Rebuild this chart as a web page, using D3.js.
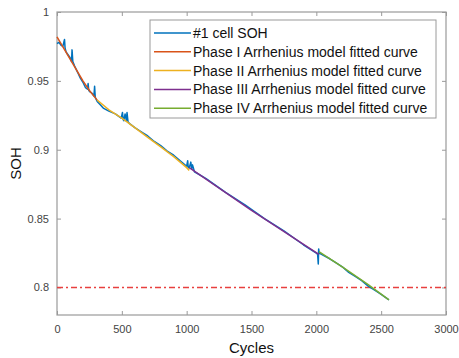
<!DOCTYPE html>
<html>
<head>
<meta charset="utf-8">
<script src="https://cdn.jsdelivr.net/npm/d3@7"></script>
<style>
  body { margin: 0; background: #fff; }
  text { font-family: 'Liberation Sans', Arial, sans-serif; }
</style>
</head>
<body>
<div id="chart"></div>
<script>
'use strict';

// measured SOH of cell #1 (cycle, soh)
var sohCycles = [0, 15, 30, 45, 58, 62, 70, 85, 100, 112, 116, 122, 135, 150, 165, 180, 200, 220, 235, 240, 245, 255, 270, 285, 290, 295, 310, 330, 360, 400, 450, 495, 505, 510, 515, 525, 535, 540, 548, 560, 600, 650, 700, 750, 800, 850, 900, 950, 1000, 1008, 1012, 1020, 1032, 1038, 1045, 1060, 1150, 1300, 1450, 1600, 1750, 1900, 2000, 2010, 2015, 2018, 2022, 2040, 2100, 2150, 2200, 2250, 2300, 2350, 2400, 2450, 2500, 2560];
var sohValues = [0.977, 0.978, 0.976, 0.975, 0.980, 0.974, 0.971, 0.969, 0.967, 0.964, 0.9725, 0.964, 0.961, 0.958, 0.955, 0.952, 0.949, 0.945, 0.944, 0.948, 0.943, 0.942, 0.941, 0.939, 0.946, 0.938, 0.935, 0.933, 0.930, 0.928, 0.926, 0.923, 0.927, 0.922, 0.921, 0.926, 0.921, 0.927, 0.920, 0.919, 0.916, 0.913, 0.910, 0.906, 0.903, 0.899, 0.896, 0.892, 0.888, 0.892, 0.887, 0.887, 0.891, 0.886, 0.889, 0.884, 0.879, 0.869, 0.860, 0.850, 0.841, 0.831, 0.825, 0.824, 0.817, 0.828, 0.825, 0.824, 0.821, 0.818, 0.815, 0.811, 0.808, 0.805, 0.801, 0.798, 0.795, 0.791];

// Arrhenius fitted curves, one per phase
var phase1 = [[0, 0.982], [50, 0.974], [100, 0.966], [150, 0.958], [200, 0.950], [250, 0.943], [310, 0.936]];
var phase2 = [[310, 0.936], [400, 0.929], [500, 0.923], [600, 0.916], [700, 0.909], [800, 0.902], [900, 0.895], [1000, 0.887], [1020, 0.885]];
var phase3 = [[1020, 0.887], [1500, 0.856], [2020, 0.824]];
var phase4 = [[2020, 0.826], [2200, 0.815], [2400, 0.802], [2560, 0.791]];

var seriesNames = ['#1 cell SOH', 'Phase I Arrhenius model fitted curve', 'Phase II Arrhenius model fitted curve',
  'Phase III Arrhenius model fitted curve', 'Phase IV Arrhenius model fitted curve'];
var seriesColors = ['#0072bd', '#d95319', '#edb120', '#7e2f8e', '#77ac30'];

var xTicks = [0, 500, 1000, 1500, 2000, 2500, 3000];
var yTicks = [0.8, 0.85, 0.9, 0.95, 1];
var eolThreshold = 0.8;

var W = 459, H = 358;
var margin = {top: 12, right: 13, bottom: 43, left: 57},
  width = W - margin.left - margin.right,
  height = H - margin.top - margin.bottom;

var svg = d3.select('#chart').append('svg')
  .attr('width', W)
  .attr('height', H)
  .append('g')
  .attr('transform', 'translate(' + margin.left + ',' + margin.top + ')');

var x = d3.scaleLinear().domain([0, 3000]).range([0, width]);
var y = d3.scaleLinear().domain([0.78, 1]).range([height, 0]);

var axisColor = '#9a9a9a';

// axes with inward ticks (box style)
function styleAxis(g) {
  g.select('.domain').remove();
  g.selectAll('.tick line').attr('stroke', axisColor);
  g.selectAll('.tick text').attr('fill', '#444').style('font-size', '11px');
}

svg.append('g')
  .attr('transform', 'translate(0,' + height + ')')
  .call(d3.axisBottom(x).tickValues(xTicks).tickSizeInner(-4).tickSizeOuter(0).tickPadding(10).tickFormat(d3.format('d')))
  .call(styleAxis);

svg.append('g')
  .call(d3.axisLeft(y).tickValues(yTicks).tickSizeInner(-4).tickSizeOuter(0).tickPadding(8).tickFormat(function(d) { return String(d); }))
  .call(styleAxis);

svg.append('g')
  .call(d3.axisTop(x).tickValues(xTicks).tickSizeInner(-4).tickSizeOuter(0).tickFormat(''))
  .call(styleAxis);

svg.append('g')
  .attr('transform', 'translate(' + width + ',0)')
  .call(d3.axisRight(y).tickValues(yTicks).tickSizeInner(-4).tickSizeOuter(0).tickFormat(''))
  .call(styleAxis);

svg.append('rect')
  .attr('width', width)
  .attr('height', height)
  .attr('fill', 'none')
  .attr('stroke', axisColor)
  .attr('stroke-width', 1.2);

// threshold line
svg.append('line')
  .attr('x1', 0)
  .attr('x2', width)
  .attr('y1', y(eolThreshold))
  .attr('y2', y(eolThreshold))
  .attr('stroke', '#e8403f')
  .attr('stroke-width', 1.4)
  .attr('stroke-dasharray', '6,3,2,3');

var line = d3.line()
  .x(function(d) { return x(d[0]); })
  .y(function(d) { return y(d[1]); });

var sohData = sohCycles.map(function(c, i) { return [c, sohValues[i]]; });
var allSeries = [sohData, phase1, phase2, phase3, phase4];

allSeries.forEach(function(s, i) {
  svg.append('path')
    .datum(s)
    .attr('fill', 'none')
    .attr('stroke', seriesColors[i])
    .attr('stroke-width', 1.5)
    .attr('stroke-linejoin', 'round')
    .attr('d', line);
});

// legend
var legend = svg.append('g')
  .attr('transform', 'translate(' + (150 - margin.left) + ',' + (20 - margin.top) + ')');

legend.append('rect')
  .attr('width', 286)
  .attr('height', 98)
  .attr('fill', '#fff')
  .attr('stroke', axisColor)
  .attr('stroke-width', 1);

seriesNames.forEach(function(name, i) {
  var ly = 13 + i * 18.8;
  legend.append('line')
    .attr('x1', 4)
    .attr('x2', 41)
    .attr('y1', ly)
    .attr('y2', ly)
    .attr('stroke', seriesColors[i])
    .attr('stroke-width', 1.5);
  legend.append('text')
    .attr('x', 43)
    .attr('y', ly)
    .attr('dy', '0.35em')
    .style('font-size', '14px')
    .attr('fill', '#111')
    .text(name);
});

// axis titles
svg.append('text')
  .attr('x', width / 2)
  .attr('y', height + 38)
  .attr('text-anchor', 'middle')
  .style('font-size', '15px')
  .attr('fill', '#111')
  .text('Cycles');

svg.append('text')
  .attr('transform', 'translate(' + (-36) + ',' + (height / 2) + ') rotate(-90)')
  .attr('text-anchor', 'middle')
  .style('font-size', '15px')
  .attr('fill', '#111')
  .text('SOH');
</script>
</body>
</html>
